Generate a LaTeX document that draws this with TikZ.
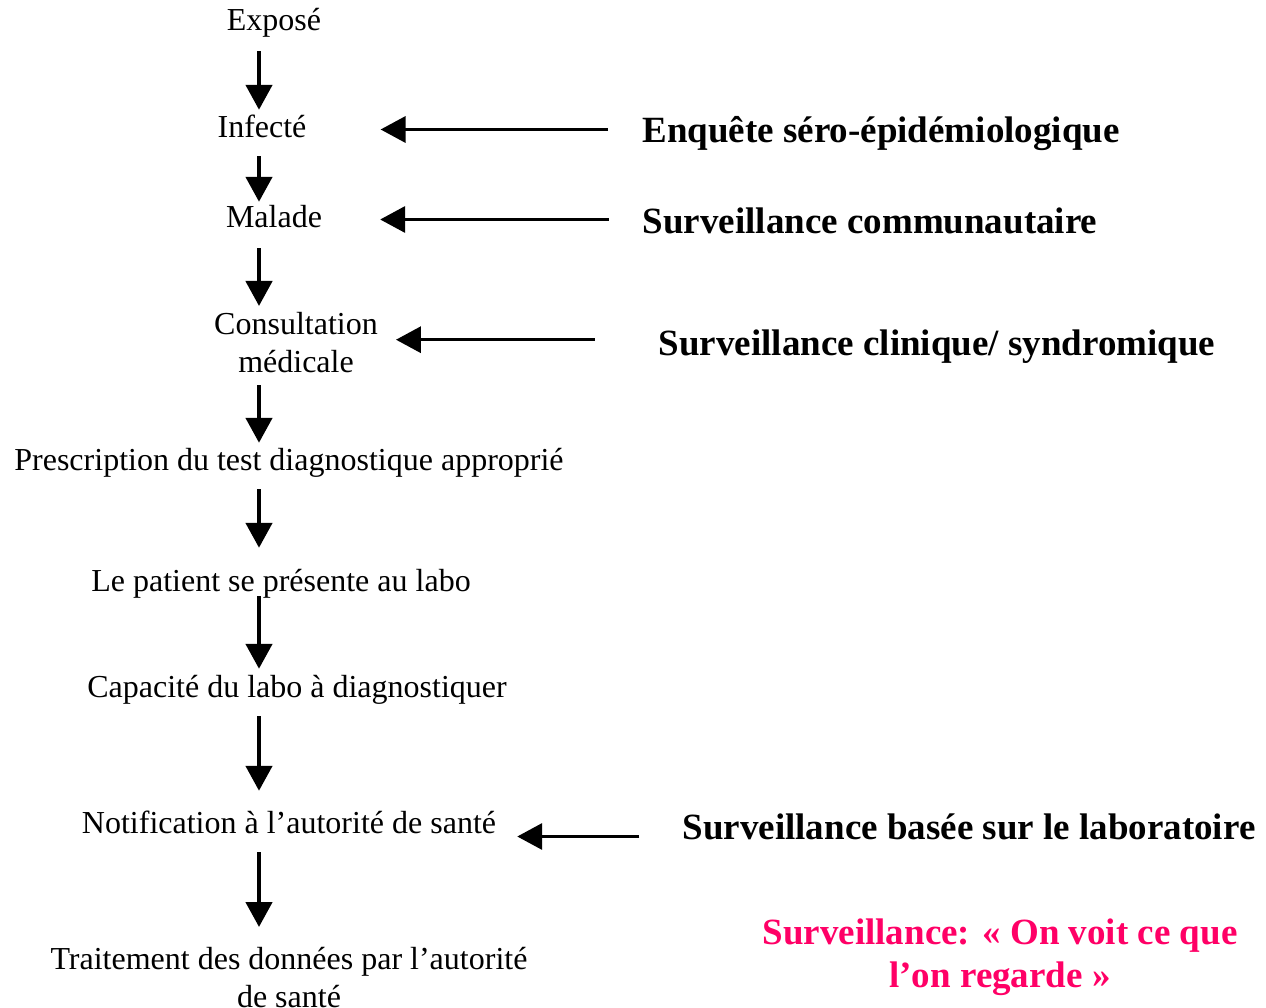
\documentclass[tikz,border=0pt]{standalone}
\usepackage{fontspec}
\setmainfont{Liberation Serif}
\usetikzlibrary{arrows.meta}
\definecolor{slogan}{RGB}{255,0,102}

\begin{document}
\begin{tikzpicture}[x=1pt,y=-1pt,
  txt/.style={inner sep=0pt,font=\fontsize{32}{38.5}\selectfont,align=center},
  stage/.style={txt,anchor=base,text height=24pt,text depth=7pt},
  method/.style={anchor=base,inner sep=0pt,text height=27pt,text depth=8pt,
                 font=\fontsize{37}{43}\selectfont\bfseries},
  down/.style={-{Triangle[length=25pt,width=26pt]},line width=4.5pt,shorten <=13pt},
  feed/.style={-{Triangle[length=25pt,width=26pt]},line width=3.5pt}
]
\useasboundingbox (0,0) rectangle (1266,1008);
\coordinate (spine) at (259,0);
% the path from exposure to the data
\node[stage] (expose) at (274,31) {Exposé};
\node[stage] (infecte) at (262,138) {Infecté};
\node[stage] (malade) at (274,228) {Malade};
\node[txt,anchor=north] (consult) at (296,312) {Consultation\\médicale};
\node[stage] (prescr) at (289,470) {Prescription du test diagnostique approprié};
\node[stage] (patient) at (281,591) {Le patient se présente au labo};
\node[stage] (capacite) at (297,697) {Capacité du labo à diagnostiquer};
\node[stage] (notif) at (289,833) {Notification à l’autorité de santé};
\node[txt,anchor=north] (traitement) at (289,947) {Traitement des données par l’autorité\\de santé};
\coordinate (consultin) at ([yshift=3pt]consult.east);
\coordinate (notifin) at ([yshift=-12pt]notif.east);
\draw[down,shorten >=4pt] (expose.south -| spine) -- (infecte.north -| spine);
\draw[down,shorten <=11pt,shorten >=2pt] (infecte.south -| spine) -- (malade.north -| spine);
\draw[down,shorten >=6pt] (malade.south -| spine) -- (consult.north -| spine);
\draw[down,shorten <=12pt,shorten >=3pt] (consult.south -| spine) -- (prescr.north -| spine);
\draw[down,shorten <=12pt,shorten >=19pt] (prescr.south -| spine) -- (patient.north -| spine);
\draw[down,shorten <=-2pt,shorten >=4pt] (patient.south -| spine) -- (capacite.north -| spine);
\draw[down,shorten <=12pt,shorten >=18pt] (capacite.south -| spine) -- (notif.north -| spine);
\draw[down,shorten <=12pt,shorten >=20pt] (notif.south -| spine) -- (traitement.north -| spine);
% types of surveillance
\node[method] (enquete) at (881,143) {Enquête séro-épidémiologique};
\node[method] (communaut) at (870,234) {Surveillance communautaire};
\node[method] (clinique) at (937,355) {Surveillance clinique/ syndromique};
\node[method] (labo) at (969,839) {Surveillance basée sur le laboratoire};
\draw[feed,shorten <=34pt,shorten >=74pt] (enquete.west |- infecte.east) -- (infecte.east);
\draw[feed,shorten <=34pt,shorten >=58pt] (communaut.west |- malade.east) -- (malade.east);
\draw[feed,shorten <=64pt,shorten >=18pt] (clinique.west |- consultin) -- (consultin);
\draw[feed,shorten <=43pt,shorten >=21pt] (labo.west |- notifin) -- (notifin);
\node[txt,anchor=north,text=slogan,font=\fontsize{37}{43}\selectfont\bfseries] (devise) at (1000,919)
  {Surveillance: « On voit ce que\\l’on regarde »};
\end{tikzpicture}
\end{document}
